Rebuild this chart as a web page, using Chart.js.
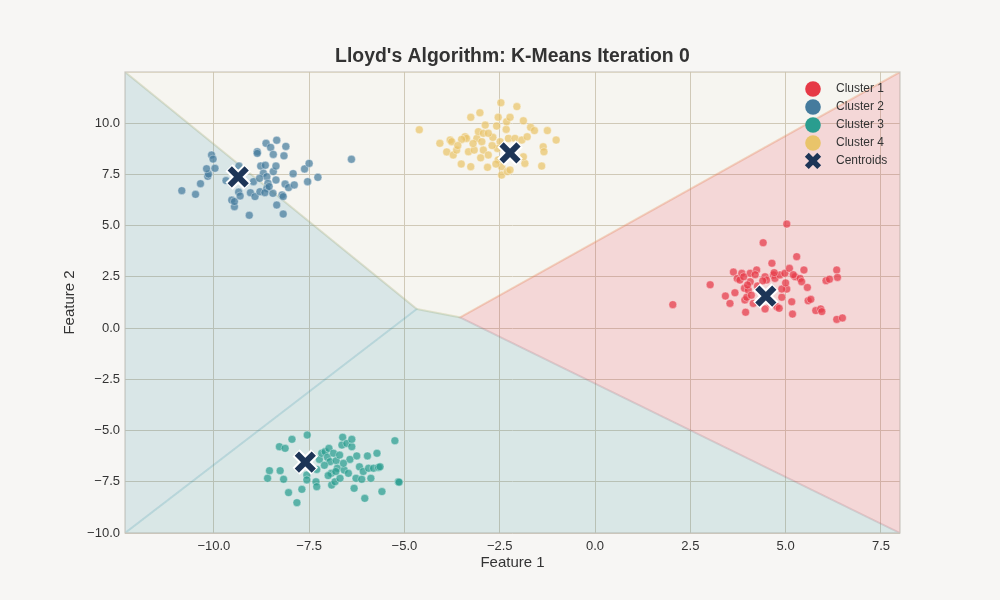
<!DOCTYPE html>
<html><head><meta charset="utf-8">
<script src="https://cdn.jsdelivr.net/npm/chart.js@4.4.1/dist/chart.umd.min.js"></script>
<style>html,body{margin:0;padding:0;background:#f7f6f4;}#wrap{width:1000px;height:600px;}</style>
</head><body><div id="wrap"><canvas id="c" width="1000" height="600"></canvas></div>
<script>
const titleText = "Lloyd's Algorithm: K-Means Iteration 0";
const xLabel = 'Feature 1';
const yLabel = 'Feature 2';
const xTicks = [-10, -7.5, -5, -2.5, 0, 2.5, 5, 7.5];
const yTicks = [-10, -7.5, -5, -2.5, 0, 2.5, 5, 7.5, 10];
const xRange = [-12.33, 8.0];
const yRange = [-10.0, 12.49];
const clusterNames = ['Cluster 1', 'Cluster 2', 'Cluster 3', 'Cluster 4'];
const centroidName = 'Centroids';
const clusterColors = ['#e63946', '#457b9d', '#2a9d8f', '#e9c46a'];
const regionTints = ['#e63946', '#2e8ba4', '#2c919b', '#e9c46a'];
const centroidColor = '#1d3557';

const cluster1 = [[2.04,1.14],[3.02,2.11],[3.42,1.56],[3.54,1.20],[3.63,2.73],[3.67,1.72],[3.73,2.42],[3.85,2.67],[3.80,2.34],[3.93,1.37],[3.98,1.50],[3.95,0.77],[3.92,1.94],[4.02,1.85],[4.07,2.67],[4.07,2.26],[4.24,2.83],[4.26,2.05],[4.41,4.16],[4.46,2.50],[4.50,2.34],[4.46,0.93],[4.64,3.16],[4.68,2.59],[4.72,2.42],[4.77,1.04],[4.83,0.96],[4.85,2.59],[4.90,1.50],[4.98,2.67],[5.03,5.07],[5.03,1.90],[5.10,2.91],[5.16,1.28],[5.18,0.68],[5.29,3.48],[5.25,2.50],[5.38,2.42],[5.42,2.26],[5.48,2.83],[5.57,1.98],[5.59,1.33],[5.66,1.40],[5.79,0.85],[5.92,0.93],[5.95,0.80],[6.06,2.31],[6.15,2.38],[6.34,2.83],[6.36,2.47],[6.34,0.42],[6.49,0.49],[4.30,1.80],[4.10,1.60],[4.60,1.20],[4.90,1.90],[5.00,2.20],[4.40,2.30],[4.00,2.10],[3.90,2.50],[4.50,1.70],[4.20,2.60],[5.20,2.60],[4.70,2.70],[4.15,1.20]];
const cluster2 = [[-10.84,6.70],[-10.48,6.52],[-10.35,7.04],[-10.16,7.40],[-10.14,7.51],[-10.19,7.77],[-10.06,8.44],[-10.02,8.24],[-9.97,7.79],[-9.68,7.19],[-9.53,6.24],[-9.46,5.92],[-9.46,6.17],[-9.34,7.90],[-9.35,6.63],[-9.31,6.44],[-9.07,5.50],[-9.04,6.60],[-8.92,6.41],[-8.96,7.14],[-8.86,8.60],[-8.86,8.52],[-8.79,6.65],[-8.77,7.90],[-8.65,7.94],[-8.63,9.01],[-8.51,8.81],[-8.35,9.16],[-8.44,8.47],[-8.70,7.55],[-8.61,7.38],[-8.58,7.06],[-8.61,6.81],[-8.66,6.60],[-8.44,7.63],[-8.37,7.90],[-8.37,7.22],[-8.45,6.57],[-8.35,6.00],[-8.21,6.49],[-8.18,6.41],[-8.18,5.56],[-8.16,8.40],[-8.11,8.86],[-8.13,7.02],[-8.04,6.85],[-7.92,7.53],[-7.89,6.98],[-7.62,7.76],[-7.54,7.14],[-7.50,8.03],[-7.27,7.35],[-6.39,8.23],[-8.80,7.30],[-8.55,6.90]];
const cluster3 = [[-8.59,-7.33],[-8.54,-6.96],[-8.26,-6.96],[-8.17,-7.38],[-8.28,-5.79],[-8.13,-5.87],[-7.95,-5.43],[-8.04,-8.03],[-7.82,-8.52],[-7.69,-7.87],[-7.55,-5.22],[-7.56,-7.17],[-7.56,-7.41],[-7.32,-7.50],[-7.30,-7.74],[-7.23,-6.41],[-7.17,-6.11],[-7.08,-6.03],[-6.98,-5.87],[-7.02,-6.31],[-6.95,-6.52],[-6.92,-7.09],[-6.91,-7.66],[-6.82,-7.50],[-6.79,-6.47],[-6.76,-6.84],[-6.69,-7.33],[-6.64,-5.71],[-6.62,-5.33],[-6.58,-6.93],[-6.51,-5.63],[-6.47,-7.09],[-6.43,-6.41],[-6.38,-5.79],[-6.32,-7.82],[-6.27,-7.33],[-6.25,-6.24],[-6.18,-6.77],[-6.12,-7.38],[-6.04,-8.31],[-6.08,-7.00],[-5.97,-6.24],[-5.94,-6.84],[-5.88,-7.33],[-5.81,-6.84],[-5.72,-6.11],[-5.68,-6.80],[-5.64,-6.77],[-5.59,-7.98],[-5.25,-5.50],[-5.16,-7.50],[-5.14,-7.52],[-6.38,-5.43],[-6.86,-6.11],[-7.30,-6.90],[-7.00,-7.20],[-6.60,-6.60],[-6.80,-7.00],[-7.10,-6.70],[-6.70,-6.20]];
const cluster4 = [[-4.61,9.67],[-4.07,9.01],[-3.89,8.59],[-3.80,9.17],[-3.76,9.09],[-3.72,8.44],[-3.63,8.68],[-3.51,8.00],[-3.41,9.33],[-3.37,9.25],[-3.26,10.28],[-3.26,7.87],[-3.32,8.60],[-3.17,8.68],[-3.10,9.25],[-3.02,10.50],[-3.06,9.58],[-2.93,9.50],[-2.88,9.90],[-2.97,9.09],[-2.93,8.68],[-2.80,8.44],[-2.82,7.84],[-2.68,9.30],[-2.58,9.85],[-2.54,10.28],[-2.47,10.99],[-2.49,9.09],[-2.56,8.76],[-2.54,8.20],[-2.45,7.87],[-2.45,7.46],[-2.33,9.69],[-2.32,10.06],[-2.23,10.28],[-2.27,9.25],[-2.30,7.63],[-2.23,7.71],[-2.05,10.80],[-2.10,9.25],[-1.92,9.17],[-1.88,10.11],[-1.78,9.33],[-1.84,8.03],[-1.88,8.35],[-1.69,9.79],[-1.59,9.63],[-1.36,8.84],[-1.34,8.60],[-1.40,7.90],[-1.25,9.63],[-1.02,9.17],[-3.20,9.00],[-2.70,8.90],[-3.00,8.30],[-2.60,8.00],[-2.10,8.30],[-3.50,9.20],[-2.80,9.50],[-3.60,8.90]];
const centroids = [[4.48,1.56],[-9.36,7.37],[-7.60,-6.54],[-2.23,8.54]];
const junctions = [[-4.676,0.93],[-3.54,0.52]];

function rgba(hex, a) {
  const n = parseInt(hex.slice(1), 16);
  return `rgba(${(n>>16)&255},${(n>>8)&255},${n&255},${a})`;
}
const toXY = arr => arr.map(p => ({x: p[0], y: p[1]}));
const [x0, x1] = xRange, [y0, y1] = yRange;
const [j1, j2] = junctions;
const regions = [
  [[x1,y1],[x1,y0],j2],
  [[x0,y1],j1,[x0,y0]],
  [[x0,y0],j1,j2,[x1,y0]],
  [[x0,y1],[x1,y1],j2,j1]
];
const regionAlpha = [0.16, 0.15, 0.15, 0.025];
const regionBorderAlpha = [0.12, 0.1, 0.1, 0.25];

const datasets = [];
[3,2,1,0].forEach(i => {
  const poly = regions[i].concat([regions[i][0]]);
  datasets.push({
    type: 'line', label: 'region' + i, data: toXY(poly),
    backgroundColor: rgba(regionTints[i], regionAlpha[i]),
    borderColor: rgba(regionTints[i], regionBorderAlpha[i]),
    borderWidth: 2, pointRadius: 0, fill: 'shape', tension: 0,
    order: 20 + i, clip: 0
  });
});
[cluster1, cluster2, cluster3, cluster4].forEach((c, i) => {
  datasets.push({
    type: 'scatter', label: clusterNames[i], data: toXY(c),
    backgroundColor: rgba(clusterColors[i], 0.72),
    borderColor: 'rgba(255,255,255,0.6)', borderWidth: 0.6,
    pointRadius: 4, pointHoverRadius: 4, order: 10
  });
});
datasets.push({
  type: 'scatter', label: 'centroidOutline', data: toXY(centroids),
  pointStyle: 'crossRot', pointRadius: 13, borderColor: '#ffffff', borderWidth: 10,
  backgroundColor: '#ffffff', order: 2
});
datasets.push({
  type: 'scatter', label: centroidName, data: toXY(centroids),
  pointStyle: 'crossRot', pointRadius: 12, borderColor: centroidColor, borderWidth: 6,
  backgroundColor: centroidColor, order: 1
});

const fmt = v => (v < 0 ? '\u2212' : '') + Math.abs(v).toFixed(1);

const framePlugin = {
  id: 'frame',
  afterDatasetsDraw(chart) {
    const {ctx, chartArea: a} = chart;
    ctx.save();
    ctx.strokeStyle = 'rgba(200,196,188,0.9)';
    ctx.lineWidth = 1.2;
    ctx.strokeRect(a.left, a.top, a.right - a.left, a.bottom - a.top);
    ctx.restore();
  }
};
const legendPlugin = {
  id: 'customLegend',
  afterDraw(chart) {
    const {ctx, chartArea: a} = chart;
    const mx = a.right - 87, tx = a.right - 64, top = a.top + 17, step = 18;
    ctx.save();
    ctx.font = '12px "Liberation Sans", Arial, sans-serif';
    ctx.textBaseline = 'middle';
    clusterNames.forEach((n, i) => {
      const y = top + i * step;
      ctx.beginPath();
      ctx.arc(mx, y, 7.8, 0, Math.PI * 2);
      ctx.fillStyle = clusterColors[i];
      ctx.fill();
      ctx.fillStyle = '#333333';
      ctx.fillText(n, tx, y);
    });
    const y = top + 4 * step;
    ctx.strokeStyle = centroidColor;
    ctx.lineWidth = 5.5;
    const d = 6.2;
    ctx.beginPath();
    ctx.moveTo(mx - d, y - d); ctx.lineTo(mx + d, y + d);
    ctx.moveTo(mx - d, y + d); ctx.lineTo(mx + d, y - d);
    ctx.stroke();
    ctx.fillStyle = '#333333';
    ctx.fillText(centroidName, tx, y);
    ctx.restore();
  }
};

Chart.defaults.font.family = '"Liberation Sans", Arial, sans-serif';
Chart.defaults.color = '#333333';

new Chart(document.getElementById('c'), {
  type: 'scatter',
  data: {datasets},
  options: {
    responsive: false, animation: false, devicePixelRatio: 1,
    layout: {padding: {left: 25, right: 0, top: 0, bottom: 0}},
    plugins: {
      legend: {display: false},
      tooltip: {enabled: false},
      title: {display: true, text: titleText, color: '#333333',
        font: {size: 19.4, weight: 'bold'}, padding: {top: 45.5, bottom: 3.2}}
    },
    scales: {
      x: {
        type: 'linear', min: x0, max: x1,
        afterBuildTicks: s => { s.ticks = xTicks.map(v => ({value: v})); },
        afterFit: s => { s.height = 67; },
        ticks: {callback: fmt, font: {size: 13}, color: '#333333', padding: 6, maxRotation: 0, autoSkip: false},
        grid: {color: '#d0c9ba', lineWidth: 1, drawTicks: false},
        border: {display: false},
        title: {display: true, text: xLabel, font: {size: 15}, color: '#333333', padding: {top: 0, bottom: 28}}
      },
      y: {
        type: 'linear', position: 'left', min: y0, max: y1,
        afterBuildTicks: s => { s.ticks = yTicks.map(v => ({value: v})); },
        afterFit: s => { s.width = 100; },
        ticks: {callback: fmt, font: {size: 13}, color: '#333333', padding: 5, autoSkip: false},
        grid: {color: '#d0c9ba', lineWidth: 1, drawTicks: false},
        border: {display: false},
        title: {display: true, text: yLabel, font: {size: 15}, color: '#333333', padding: {top: 36, bottom: 0}}
      },
      yRightSpace: {
        type: 'linear', position: 'right', display: true, min: y0, max: y1,
        afterFit: s => { s.width = 100; },
        ticks: {display: false},
        grid: {display: false, drawTicks: false},
        border: {display: false}
      }
    }
  },
  plugins: [framePlugin, legendPlugin]
});
</script></body></html>
